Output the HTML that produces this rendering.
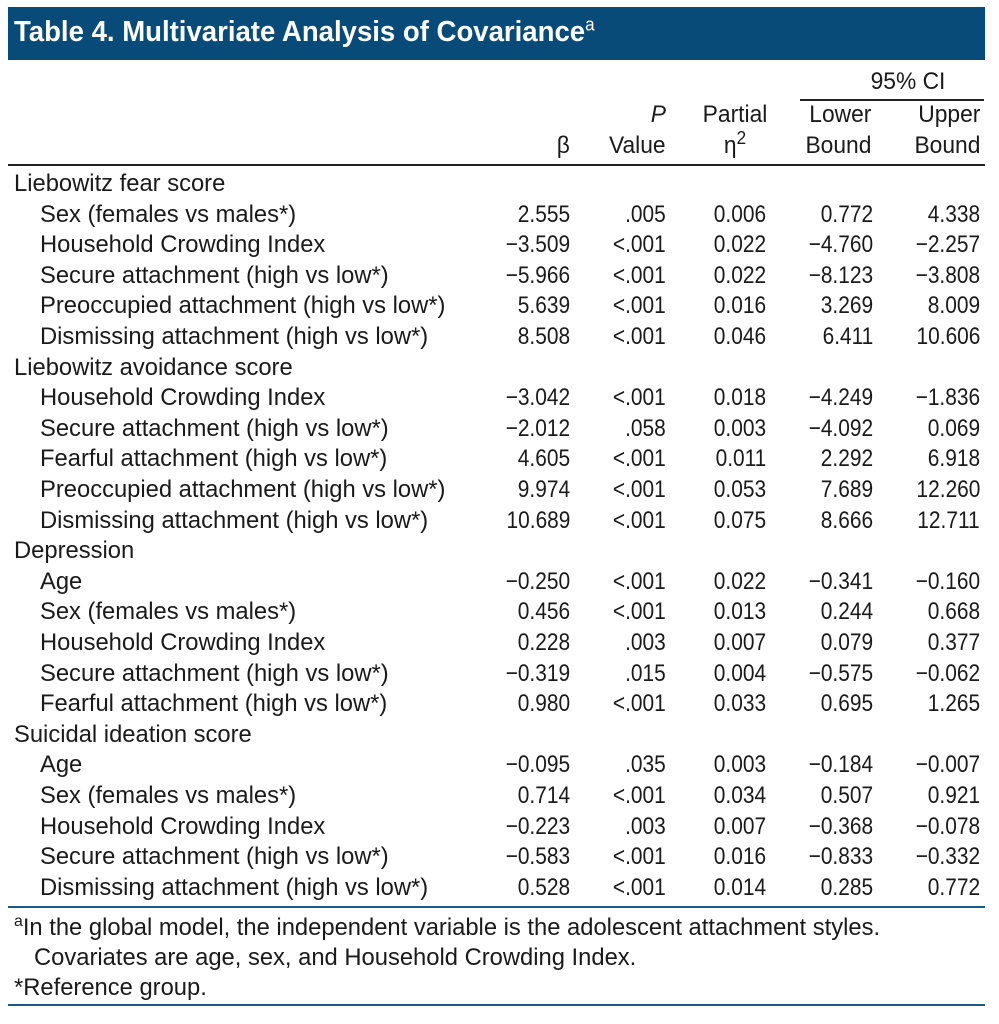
<!DOCTYPE html>
<html><head><meta charset="utf-8">
<style>
html,body{margin:0;padding:0;background:#fff;}
#wrap{position:relative;width:999px;height:1024px;overflow:hidden;font-family:"Liberation Sans",Arial,sans-serif;color:#1a1a1a;}
.t{position:absolute;font-size:24px;line-height:28px;white-space:nowrap;transform:scaleX(0.87);}
.h{transform:scaleX(0.95);}
.lab{transform:scaleX(0.99);}
.l{transform-origin:left center;}
.r{transform-origin:right center;text-align:right;}
.c{transform-origin:center center;text-align:center;}
.rule{position:absolute;height:2px;}
sup{line-height:0;}
</style></head>
<body>
<div id="wrap">
  <div style="position:absolute;left:8px;top:7px;width:977px;height:53px;background:#084a78;"></div>
  <div class="t l" style="left:14px;top:16px;color:#fff;font-size:29px;line-height:32px;font-weight:bold;transform:scaleX(0.95);">Table 4. Multivariate Analysis of Covariance<sup style="font-size:18px;font-weight:normal;">a</sup></div>

  <div class="t c h" style="left:840px;width:136px;top:68px;">95% CI</div>
  <div class="rule" style="left:800px;top:99px;width:184px;background:#222;"></div>

  <div class="t r h" style="right:429px;top:132px;">β</div>
  <div class="t r h" style="right:333px;top:101px;"><i>P</i></div>
  <div class="t r h" style="right:333px;top:132px;">Value</div>
  <div class="t c h" style="left:690px;width:90px;top:101px;">Partial</div>
  <div class="t c h" style="left:690px;width:90px;top:132px;">η<sup style="font-size:18px;">2</sup></div>
  <div class="t r h" style="right:128px;top:101px;">Lower</div>
  <div class="t r h" style="right:128px;top:132px;">Bound</div>
  <div class="t r h" style="right:19px;top:101px;">Upper</div>
  <div class="t r h" style="right:19px;top:132px;">Bound</div>
  <div class="rule" style="left:8px;top:164px;width:977px;background:#222;"></div>

  <div id="rows"></div>

  <div class="rule" style="left:8px;top:906px;width:977px;background:#1b5a86;"></div>
  <div class="t l lab" style="left:14px;top:914px;"><sup style="font-size:16px;">a</sup>In the global model, the independent variable is the adolescent attachment styles.</div>
  <div class="t l lab" style="left:34px;top:944px;">Covariates are age, sex, and Household Crowding Index.</div>
  <div class="t l lab" style="left:14px;top:974px;">*Reference group.</div>
  <div class="rule" style="left:8px;top:1004px;width:977px;background:#1b5a86;"></div>
</div>
<script>
const labels=["Liebowitz fear score","Sex (females vs males*)","Household Crowding Index","Secure attachment (high vs low*)","Preoccupied attachment (high vs low*)","Dismissing attachment (high vs low*)","Liebowitz avoidance score","Household Crowding Index","Secure attachment (high vs low*)","Fearful attachment (high vs low*)","Preoccupied attachment (high vs low*)","Dismissing attachment (high vs low*)","Depression","Age","Sex (females vs males*)","Household Crowding Index","Secure attachment (high vs low*)","Fearful attachment (high vs low*)","Suicidal ideation score","Age","Sex (females vs males*)","Household Crowding Index","Secure attachment (high vs low*)","Dismissing attachment (high vs low*)"];
const betas=["","2.555","\u22123.509","\u22125.966","5.639","8.508","","\u22123.042","\u22122.012","4.605","9.974","10.689","","\u22120.250","0.456","0.228","\u22120.319","0.980","","\u22120.095","0.714","\u22120.223","\u22120.583","0.528"];
const pvals=["",".005","<.001","<.001","<.001","<.001","","<.001",".058","<.001","<.001","<.001","","<.001","<.001",".003",".015","<.001","",".035","<.001",".003","<.001","<.001"];
const etas=["","0.006","0.022","0.022","0.016","0.046","","0.018","0.003","0.011","0.053","0.075","","0.022","0.013","0.007","0.004","0.033","","0.003","0.034","0.007","0.016","0.014"];
const lowers=["","0.772","\u22124.760","\u22128.123","3.269","6.411","","\u22124.249","\u22124.092","2.292","7.689","8.666","","\u22120.341","0.244","0.079","\u22120.575","0.695","","\u22120.184","0.507","\u22120.368","\u22120.833","0.285"];
const uppers=["","4.338","\u22122.257","\u22123.808","8.009","10.606","","\u22121.836","0.069","6.918","12.260","12.711","","\u22120.160","0.668","0.377","\u22120.062","1.265","","\u22120.007","0.921","\u22120.078","\u22120.332","0.772"];
const rows=document.getElementById('rows');
const rights=[429,333,233,126,19];
const colNames=['beta','p-value','partial-eta','lower-bound','upper-bound'];
labels.forEach((lab,i)=>{
  const top=170+i*30.6;
  const isGroup=betas[i]==="";
  const d=document.createElement('div');
  d.className='t l lab';
  d.style.left=(isGroup?14:40)+'px';
  d.style.top=top+'px';
  d.textContent=lab;
  
  
  rows.appendChild(d);
  if(isGroup)return;
  [betas[i],pvals[i],etas[i],lowers[i],uppers[i]].forEach((v,j)=>{
    const c=document.createElement('div');
    c.className='t r';
    c.style.right=rights[j]+'px';
    c.style.top=top+'px';
    c.textContent=v;
    
    
    rows.appendChild(c);
  });
});
</script>
</body></html>
